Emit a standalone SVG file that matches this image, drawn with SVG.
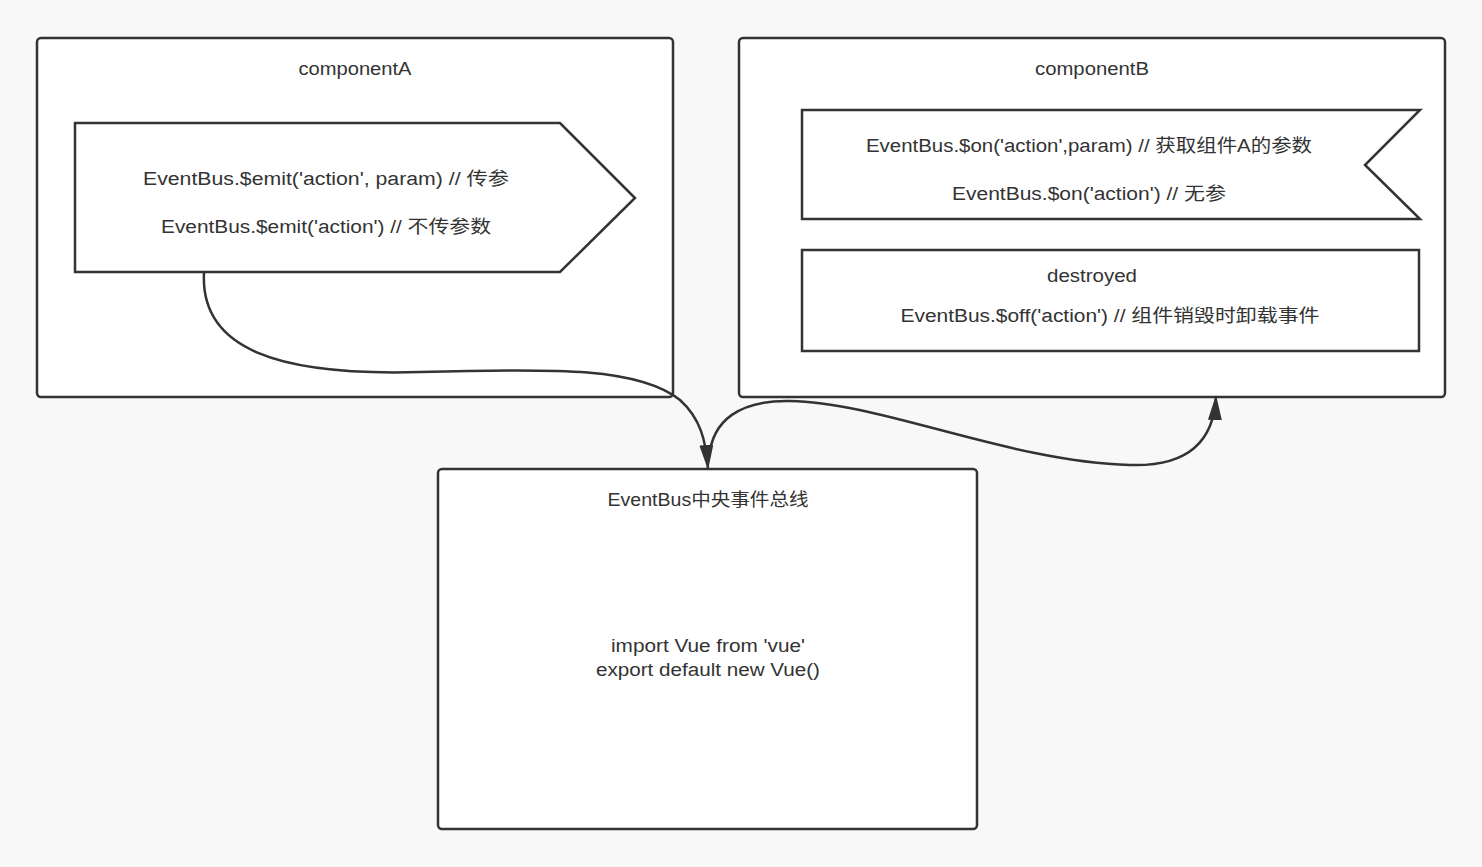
<svg xmlns="http://www.w3.org/2000/svg" width="1482" height="867" viewBox="0 0 1482 867">
<defs>
<style>
.box{fill:#fff;stroke:#333;stroke-width:2.5}
.t{font-family:"Liberation Sans","Noto Sans CJK SC",sans-serif;font-size:18px;fill:#333;text-anchor:middle}
.c{fill:none;stroke:#333;stroke-width:2.5}
</style>
<marker id="ah" markerWidth="25" markerHeight="14" refX="24" refY="7" orient="auto" markerUnits="userSpaceOnUse" viewBox="0 0 25 14">
<path d="M0,0 L25,7 L0,14 Z" fill="#333"/>
</marker>
</defs>
<rect width="1482" height="867" fill="#f8f8f8"/>
<g id="componentA">
<rect class="box" x="37" y="38" width="636" height="359" rx="4"/>
<text class="t" x="355" y="75" textLength="113" lengthAdjust="spacingAndGlyphs">componentA</text>
</g>
<g id="emit">
<path class="box" d="M75,123 L560,123 L635,198 L560,272 L75,272 Z"/>
<text class="t" x="326" y="185" textLength="366" lengthAdjust="spacingAndGlyphs">EventBus.$emit('action', param) //  传参</text>
<text class="t" x="326" y="233" textLength="330" lengthAdjust="spacingAndGlyphs">EventBus.$emit('action') // 不传参数</text>
</g>
<g id="componentB">
<rect class="box" x="739" y="38" width="706" height="359" rx="4"/>
<text class="t" x="1092" y="75" textLength="114" lengthAdjust="spacingAndGlyphs">componentB</text>
</g>
<g id="on">
<path class="box" d="M802,110 L1420,110 L1365,165 L1420,219 L802,219 Z"/>
<text class="t" x="1089" y="152" textLength="446" lengthAdjust="spacingAndGlyphs">EventBus.$on('action',param) // 获取组件A的参数</text>
<text class="t" x="1089" y="200" textLength="274" lengthAdjust="spacingAndGlyphs">EventBus.$on('action') // 无参</text>
</g>
<g id="destroyed">
<rect class="box" x="802" y="250" width="617" height="101"/>
<text class="t" x="1092" y="282" textLength="90" lengthAdjust="spacingAndGlyphs">destroyed</text>
<text class="t" x="1110" y="322" textLength="419" lengthAdjust="spacingAndGlyphs">EventBus.$off('action')  // 组件销毁时卸载事件</text>
</g>
<g id="eventbus">
<rect class="box" x="438" y="469" width="539" height="360" rx="4"/>
<text class="t" x="708" y="506" textLength="201" lengthAdjust="spacingAndGlyphs">EventBus中央事件总线</text>
<text class="t" x="708" y="652" textLength="194" lengthAdjust="spacingAndGlyphs">import Vue from 'vue'</text>
<text class="t" x="708" y="676" textLength="224" lengthAdjust="spacingAndGlyphs">export default new Vue()</text>
</g>
<g id="connectors">
<path class="c" marker-end="url(#ah)" d="M204,273 C200,350 280,376 420,372 C560,368 640,368 680,400 C700,418 706,440 708,469"/>
<path class="c" marker-end="url(#ah)" d="M709,458 C712,420 740,400 790,401 C880,402 1010,462 1130,465 C1190,467 1214,440 1216,396"/>
</g>
</svg>
